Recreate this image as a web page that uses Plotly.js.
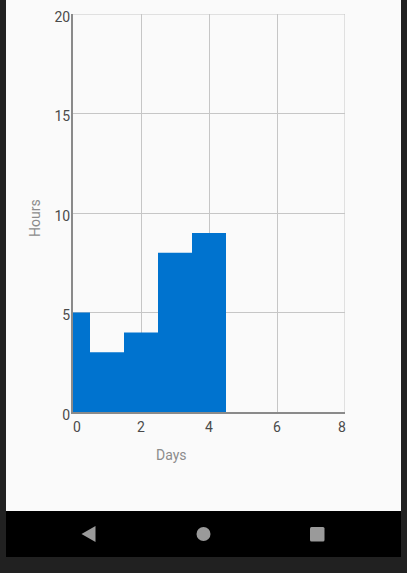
<!DOCTYPE html>
<html>
<head>
<meta charset="utf-8">
<script src="https://cdn.plot.ly/plotly-3.0.1.min.js"></script>
<style>
html,body{margin:0;padding:0;width:407px;height:573px;overflow:hidden;background:#212121}
#panel{position:absolute;left:6px;top:0;width:395px;height:511px;background:#fafafa}
#nav{position:absolute;left:6px;top:511px;width:395px;height:46px;background:#000}
#icons{position:absolute;left:0;top:0}
#chart{position:absolute;left:0;top:0;width:407px;height:573px}
</style>
</head>
<body>
<div id="panel"></div>
<div id="nav"></div>
<svg id="icons" width="407" height="573">
  <polygon points="81.5,534 95.5,526 95.5,542" fill="#9a9a9a"/>
  <circle cx="203.5" cy="534" r="7" fill="#9a9a9a"/>
  <rect x="310" y="527" width="14.5" height="14.5" rx="1.5" fill="#9a9a9a"/>
</svg>
<div id="chart"></div>
<script>
var days = [0, 1, 2, 3, 4];
var hours = [5, 3, 4, 8, 9];
var xTickVals = [0, 2, 4, 6, 8];
var xTickText = ['', '2', '4', '6', ''];
var yTickVals = [0, 5, 10, 15, 20];
var yTickText = ['0', '5', '10', '15', '20'];
var xTitle = 'Days';
var yTitle = 'Hours';
var font = 'Roboto, sans-serif';
var tickFont = {family: font, size: 14, color: '#4a4a4a'};
var titleFont = {family: font, size: 14, color: '#8c8c8c'};
var gridColor = '#c6c6c6';

Plotly.newPlot('chart', [{
  type: 'bar',
  x: days,
  y: hours,
  width: 1,
  marker: {color: '#0073cf', line: {width: 0}},
  hoverinfo: 'skip'
}], {
  width: 407,
  height: 573,
  margin: {l: 73, r: 62, t: 14, b: 161, pad: 0},
  paper_bgcolor: 'rgba(0,0,0,0)',
  plot_bgcolor: 'rgba(0,0,0,0)',
  showlegend: false,
  xaxis: {
    range: [0, 8], tickmode: 'array', tickvals: xTickVals, ticktext: xTickText,
    showgrid: true, gridcolor: gridColor, gridwidth: 1, zeroline: false,
    showline: true, linecolor: '#8a8a8a', linewidth: 2,
    ticks: '', tickfont: tickFont, ticklabelstandoff: 1
  },
  yaxis: {
    range: [0, 20], tickmode: 'array', tickvals: yTickVals, ticktext: yTickText,
    showgrid: true, gridcolor: gridColor, gridwidth: 1, zeroline: false,
    showline: true, linecolor: '#8a8a8a', linewidth: 2,
    ticks: '', tickfont: tickFont, ticklabelshift: 3, ticklabelstandoff: -2
  },
  shapes: [
    {type: 'line', layer: 'below', xref: 'x', yref: 'y', x0: 0, x1: 8, y0: 20, y1: 20, line: {color: gridColor, width: 1}},
    {type: 'line', layer: 'below', xref: 'x', yref: 'y', x0: 8, x1: 8, y0: 0, y1: 20, line: {color: gridColor, width: 1}}
  ],
  annotations: [
    {text: '0', xref: 'x', yref: 'paper', x: 0, y: 0, xshift: 3.5, yshift: -15, xanchor: 'center', yanchor: 'middle', showarrow: false, font: tickFont},
    {text: '8', xref: 'x', yref: 'paper', x: 8, y: 0, xshift: -3.5, yshift: -15, xanchor: 'center', yanchor: 'middle', showarrow: false, font: tickFont},
    {text: xTitle, xref: 'x', yref: 'paper', x: 2.9, y: 0, yshift: -43, xanchor: 'center', yanchor: 'middle', showarrow: false, font: titleFont},
    {text: yTitle, xref: 'paper', yref: 'y', x: 0, y: 9.75, xshift: -38, xanchor: 'center', yanchor: 'middle', textangle: -90, showarrow: false, font: titleFont}
  ]
}, {displayModeBar: false, staticPlot: true});
</script>
</body>
</html>
